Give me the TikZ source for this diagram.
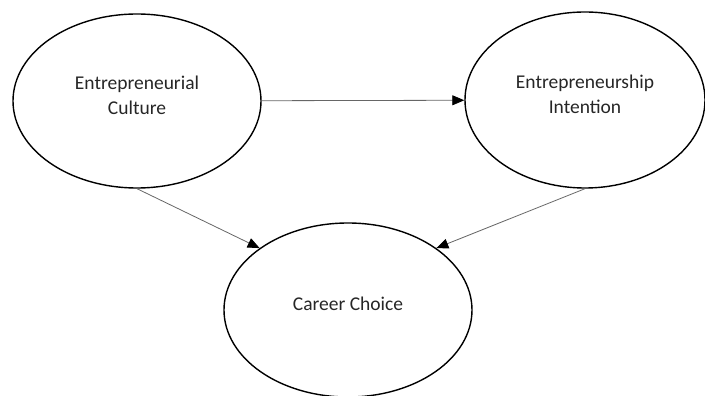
\documentclass[tikz,border=0pt]{standalone}
\usepackage{fontspec}
\setmainfont{Carlito}
\usetikzlibrary{shapes.geometric,arrows.meta}

\tikzset{
  construct/.style={draw, ellipse, line width=1.4pt, inner sep=0pt, align=center,
    font=\fontsize{19.5}{25}\selectfont, text=black!85, text depth=12pt},
  path arrow/.style={draw=black!60, line width=0.8pt, -{Triangle[length=12pt,width=10pt,color=black]}}
}

\begin{document}
\begin{tikzpicture}[x=1pt,y=1pt]
\useasboundingbox (0,0) rectangle (705,396);
\node[construct, minimum width=248pt, minimum height=174pt] (culture) at (137,295) {Entrepreneurial\\Culture};
\node[construct, minimum width=240pt, minimum height=176pt] (intention) at (585,296) {Entrepreneurship\\Intention};
\node[construct, minimum width=248pt, minimum height=174pt] (career) at (348,86) {Career Choice};
\draw[path arrow] (culture) -- (intention);
\draw[path arrow] (culture.south) -- (career.145);
\draw[path arrow] (intention.south) -- (career.35);
\end{tikzpicture}
\end{document}
